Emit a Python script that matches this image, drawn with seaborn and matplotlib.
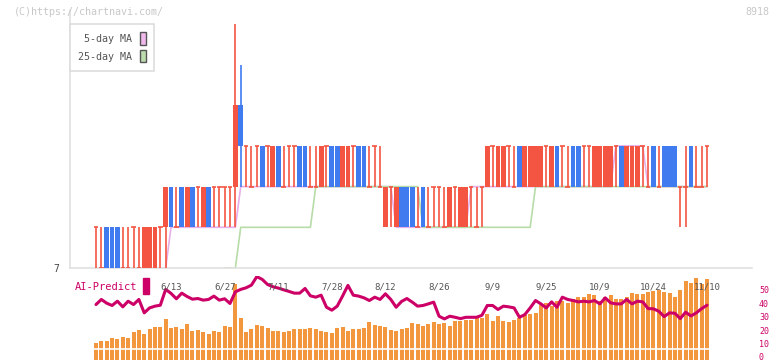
import numpy as np
import pandas as pd
import matplotlib
matplotlib.use('Agg')
import matplotlib.pyplot as plt
import matplotlib.transforms as mtransforms
from matplotlib.patches import Patch, Rectangle
import seaborn as sns

# trading days 2025/5/26 - 2025/11/10 (TSE holidays removed)
holidays = ['2025-07-21', '2025-08-11', '2025-09-15', '2025-09-23', '2025-10-13', '2025-11-03']
dates = pd.bdate_range('2025-05-26', '2025-11-10', freq='C', holidays=holidays)

# daily prices (yen)
opens = [8, 7, 8, 8, 8, 7, 7, 8, 7, 7,  7, 7, 8, 8, 9, 8, 9, 8, 9, 9,
         8, 9, 9, 9, 9, 9, 9, 11, 10, 9,  10, 10, 10, 9, 10, 9, 10, 10, 10, 10,
         9, 9, 9, 10, 10, 10, 9, 9, 10, 10,  10, 9, 10, 9, 8, 9, 8, 9, 9, 9,
         8, 9, 8, 9, 9, 8, 8, 9, 8, 8,  9, 8, 9, 9, 10, 9, 9, 10, 9, 10,
         9, 9, 9, 9, 10, 9, 10, 10, 9, 10,  10, 10, 10, 9, 9, 9, 9, 10, 10, 9,
         9, 9, 10, 9, 10, 9, 10, 10, 10, 9,  9, 10, 9, 9, 10]
closes = [8, 7, 7, 7, 7, 7, 7, 8, 7, 8,  8, 8, 8, 9, 8, 8, 8, 9, 8, 9,
          9, 8, 9, 9, 9, 9, 11, 10, 10, 9,  10, 9, 10, 10, 9, 9, 10, 10, 9, 9,
          9, 9, 10, 10, 9, 9, 10, 10, 10, 9,  9, 9, 10, 9, 9, 9, 9, 8, 8, 8,
          8, 8, 8, 9, 9, 8, 9, 9, 9, 9,  9, 8, 9, 10, 10, 10, 10, 10, 9, 9,
          10, 10, 10, 10, 10, 10, 9, 10, 9, 9,  9, 10, 10, 10, 10, 10, 10, 10, 9, 10,
          10, 10, 10, 9, 9, 9, 9, 9, 9, 9,  9, 9, 9, 9, 10]
highs = [8] * 13 + [9] * 13 + [13, 12] + [10] * 26 + [9] * 19 + [10] * 36 + [9] + [10] * 5
lows = [7] * 14 + [8] * 13 + [9] * 27 + [8] * 19 + [9] * 36 + [8, 8] + [9] * 4

# moving averages as drawn on the chart
ma5 = [np.nan] * 4 + [7] * 10 + [8] * 13 + [9] * 29 + [8] * 14 + [9] * 27 + [10] * 6 + [9] * 12
ma25 = [np.nan] * 24 + [7] * 3 + [8] * 14 + [9] * 20 + [8] * 21 + [9] * 33

# volume (relative) and AI-Predict score
volume = [12, 13.5, 13.8, 16.3, 15.5, 17, 16.3, 20.3, 22.3, 19.3,
          23, 24.5, 24.5, 30.5, 23.5, 24.5, 23, 26.8, 21.5, 22,
          20.5, 19.3, 21.5, 20.5, 25.3, 24.5, 56.5, 31, 20.5, 23,
          26, 25.3, 23.5, 21, 21.5, 20.5, 21.5, 23, 23, 23,
          23.5, 23, 21.5, 20.5, 20, 23.5, 24.5, 21.5, 23, 22.5,
          23.5, 28, 25.5, 25, 24, 22, 21, 22.5, 23.5, 27.5,
          26.8, 25.3, 26.8, 28, 26.3, 27.3, 25.3, 28.8, 29, 29.5,
          29.5, 31, 31.3, 34.3, 29, 32.8, 29, 28.3, 29.8, 31,
          33, 34.3, 35, 41, 41.8, 40, 43.3, 43.3, 42.5, 45.5,
          47, 47, 48.5, 47.8, 44, 47, 47.8, 44.8, 44.8, 47,
          49.3, 48.5, 48.5, 50, 50.8, 51.5, 50, 49.3, 47, 51.5,
          58.3, 56.8, 60.5, 56, 59.8]
ai_predict = [39, 42.8, 40, 38.3, 41.5, 37.3, 41.5, 39, 42.8, 32.8,
              36.5, 37.8, 38.5, 50.3, 47.3, 43.3, 47.5, 45, 43, 43.5,
              42.3, 42.8, 45.3, 42.3, 43.3, 39.8, 48.5, 50.3, 51.5, 53.5,
              59.8, 57.8, 54, 52.3, 51.3, 50, 48.8, 47.5, 47.5, 51,
              45.5, 44.5, 46, 37, 34.8, 37.8, 45.3, 53.3, 46, 45.3,
              44, 42, 44.5, 42.8, 47, 42.8, 37, 41.3, 43.5, 40.8,
              37.8, 38.3, 39.5, 40.8, 30.3, 28.3, 30.3, 29.5, 28.5, 29.5,
              29.5, 29.5, 31, 38.3, 38.3, 35.3, 37.8, 37.3, 36.5, 29.5,
              31.5, 36.5, 42, 39.5, 36.5, 41, 37, 44.5, 42.8, 42,
              41, 41.5, 41, 42, 39.5, 44, 40.3, 39.5, 39.5, 42.8,
              39.5, 41.5, 41, 36, 35.8, 34, 30, 32.8, 32.5, 28.5,
              33.3, 30.5, 32.8, 36, 38.5]

RED = '#f35542'
BLUE = '#407cf0'
ORANGE = '#f2973e'
MAGENTA = '#cc0066'

sns.set_theme(style='white')
plt.rcParams['font.family'] = ['DejaVu Sans Mono', 'DejaVu Sans']

W, H = 772, 361
fig = plt.figure(figsize=(W / 100, H / 100), dpi=100)
ax = fig.add_axes([70 / W, 1 - 268 / H, 682 / W, 258 / H])
axb = fig.add_axes([70 / W, 1 - 359.5 / H, 682 / W, 83.5 / H])

df = pd.DataFrame({'date': dates, 'open': opens, 'high': highs, 'low': lows,
                   'close': closes, 'ma5': ma5, 'ma25': ma25,
                   'volume': volume, 'ai': ai_predict})
df['x'] = np.arange(len(df))


def px2x(px):
    # pixel column -> bar index
    return (px - 96) / 5.36


xlim = (px2x(70), px2x(752))

# ---- price chart ----
sns.lineplot(data=df, x='x', y='ma5', color='#e8b0e8', lw=1.2, ax=ax, zorder=2)
sns.lineplot(data=df, x='x', y='ma25', color='#b8dca8', lw=1.2, ax=ax, zorder=2)

up = df[df.close > df.open]
dn = df[df.close < df.open]
fl = df[df.close == df.open]
ax.vlines(up.x, up.low, up.high, color=RED, lw=1.2, zorder=3)
ax.vlines(dn.x, dn.low, dn.high, color=BLUE, lw=1.2, zorder=3)
ax.vlines(fl.x, fl.low, fl.high, color=RED, lw=1.2, zorder=3)
ax.bar(up.x, up.close - up.open, bottom=up.open, width=0.9, color=RED, lw=0, zorder=4)
ax.bar(dn.x, dn.open - dn.close, bottom=dn.close, width=0.9, color=BLUE, lw=0, zorder=4)
ax.hlines(fl.open, fl.x - 0.42, fl.x + 0.42, color=RED, lw=1.2, zorder=4)

ax.set_xlim(*xlim)
ax.set_ylim(7, 13.34)
ax.set_xticks([px2x(70 + 62 * k) for k in range(12)])
ax.set_xticklabels([])
ax.tick_params(axis='x', direction='inout', length=6, width=1, color='#e0e0e0')
ax.set_yticks([7])
ax.set_yticklabels(['7'], fontsize=7, color='#444')
ax.tick_params(axis='y', length=0, pad=8)
ax.set_xlabel('')
ax.set_ylabel('')
for s in ['top', 'right']:
    ax.spines[s].set_visible(False)
for s in ['left', 'bottom']:
    ax.spines[s].set_color('#e0e0e0')
    ax.spines[s].set_linewidth(1.2)

leg = ax.legend(handles=[Patch(facecolor='#f0b8ec', edgecolor='#555', label='5-day MA'),
                         Patch(facecolor='#bcdcae', edgecolor='#555', label='25-day MA')],
                loc='upper left', bbox_to_anchor=(0, 1 - 14 / 258), borderaxespad=0,
                markerfirst=False, fancybox=False, framealpha=1, edgecolor='#dddddd',
                fontsize=7.2, handlelength=0.6, handleheight=1.5, handletextpad=0.7,
                labelspacing=0.55, borderpad=0.85)
leg.get_frame().set_linewidth(1.2)
for t in leg.get_texts():
    t.set_color('#555')

fig.text(14 / W, 1 - 12 / H, '(C)https://chartnavi.com/', color='#c8c8c8', fontsize=7.2, va='center')
fig.text(769 / W, 1 - 12 / H, '8918', color='#c8c8c8', fontsize=7.2, va='center', ha='right')

# ---- volume + AI-Predict ----
sns.barplot(data=df, x='x', y='volume', native_scale=True, color=ORANGE, saturation=1,
            width=0.75, linewidth=0, ax=axb, zorder=2)
axb.axhline(7.6, color='white', lw=1.2, zorder=3)
axb.set_ylim(0, 62.3)
axb.set_xlim(*xlim)
axb.set_xticks([])
axb.set_yticks([])
axb.set_xlabel('')
axb.set_ylabel('')
for s in axb.spines.values():
    s.set_visible(False)

ax2 = axb.twinx()
sns.lineplot(data=df, x='x', y='ai', color=MAGENTA, lw=2.2, ax=ax2, zorder=4)
ax2.set_ylim(-2.0, 60.3)
ax2.set_xlim(*xlim)
ax2.set_yticks(range(0, 51, 10))
ax2.set_yticklabels([str(v) for v in range(0, 51, 10)], fontsize=6, color=MAGENTA)
ax2.tick_params(axis='y', length=0, pad=5)
ax2.set_ylabel('')
ax2.set_xlabel('')
for s in ax2.spines.values():
    s.set_visible(False)

trans = mtransforms.blended_transform_factory(ax2.transData, ax2.transAxes)
for i in range(14, len(df), 10):
    d = df.date[i]
    ax2.text(i, 0.868, f'{d.month}/{d.day}', transform=trans, ha='center', va='center',
             fontsize=6.5, color='#555', zorder=5)

fig.text(75 / W, 1 - 287 / H, 'AI-Predict', color=MAGENTA, fontsize=7.5, va='center')
fig.patches.append(Rectangle((143 / W, 1 - 294 / H), 6 / W, 16 / H, color=MAGENTA,
                             transform=fig.transFigure, figure=fig))

fig.savefig('out.png', dpi=100)
